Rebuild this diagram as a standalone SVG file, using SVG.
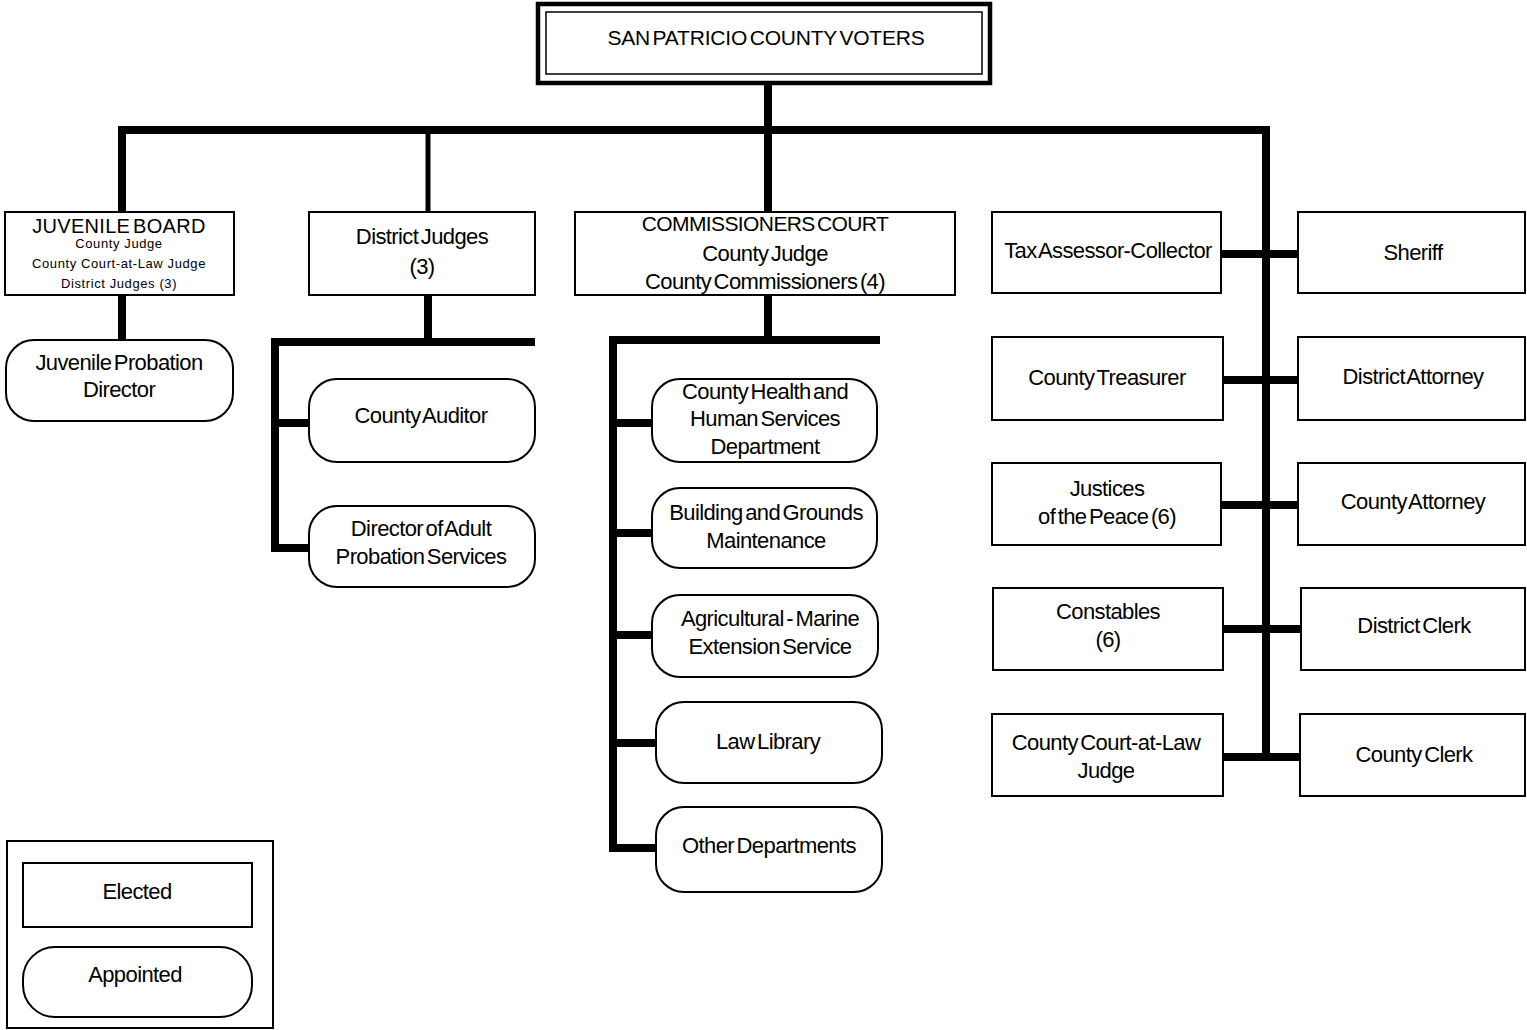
<svg xmlns="http://www.w3.org/2000/svg" width="1527" height="1030" viewBox="0 0 1527 1030">
<style>
  .box { fill: #fff; stroke: #000; stroke-width: 2; }
  .rbox { fill: #fff; stroke: #000; stroke-width: 2; }
  .t { font-family: "Liberation Sans", Arial, sans-serif; font-size: 22px; letter-spacing: -0.6px; word-spacing: -3px; text-anchor: middle; fill: #000; }
  .s { font-family: "Liberation Sans", Arial, sans-serif; font-size: 13px; letter-spacing: 0.6px; text-anchor: middle; fill: #000; }
  .c { fill: none; stroke: #000; stroke-width: 8; stroke-linejoin: miter; stroke-linecap: butt; }
  .cm { fill: none; stroke: #000; stroke-width: 5; }
</style>
<rect width="1527" height="1030" fill="#fff"/>

<g id="connectors">
  <path class="c" d="M768 84 V130"/>
  <path class="c" d="M122 212 V130 H1266 V757"/>
  <path class="cm" d="M428 130 V212"/>
  <path class="c" d="M768 130 V212"/>
  <path class="c" d="M122 295 V340"/>
  <path class="c" d="M428 295 V342"/>
  <path class="c" d="M535 342 H275 V548 H309"/>
  <path class="c" d="M275 423 H309"/>
  <path class="c" d="M768 295 V340"/>
  <path class="c" d="M880 340 H613 V848 H656"/>
  <path class="c" d="M613 423 H652"/>
  <path class="c" d="M613 533 H652"/>
  <path class="c" d="M613 635 H652"/>
  <path class="c" d="M613 743 H656"/>
  <path class="c" d="M1221 254 H1298"/>
  <path class="c" d="M1223 380 H1298"/>
  <path class="c" d="M1221 505 H1298"/>
  <path class="c" d="M1223 629 H1301"/>
  <path class="c" d="M1223 757 H1300"/>
</g>

<g id="voters">
  <rect x="538" y="4" width="452" height="79" fill="#fff" stroke="#000" stroke-width="4.5"/>
  <rect x="546" y="12" width="436" height="62" fill="none" stroke="#000" stroke-width="1.5"/>
  <text class="t" x="766" y="45" style="font-size:21px;letter-spacing:-0.2px">SAN PATRICIO COUNTY VOTERS</text>
</g>

<g id="juvenile-board">
  <rect class="box" x="5" y="212" width="229" height="83"/>
  <text class="t" x="119" y="233" style="font-size:20px;letter-spacing:0.3px">JUVENILE BOARD</text>
  <text class="s" x="119" y="248">County Judge</text>
  <text class="s" x="119" y="268">County Court-at-Law Judge</text>
  <text class="s" x="119" y="288">District Judges (3)</text>
</g>

<g id="district-judges">
  <rect class="box" x="309" y="212" width="226" height="83"/>
  <text class="t" x="422" y="244">District Judges</text>
  <text class="t" x="422" y="274">(3)</text>
</g>

<g id="commissioners-court">
  <rect class="box" x="575" y="212" width="380" height="83"/>
  <text class="t" x="765" y="231" style="font-size:21px">COMMISSIONERS COURT</text>
  <text class="t" x="765" y="261">County Judge</text>
  <text class="t" x="765" y="289">County Commissioners (4)</text>
</g>

<g id="juvenile-probation">
  <rect class="rbox" x="6" y="340" width="227" height="81" rx="28" ry="28"/>
  <text class="t" x="119" y="370">Juvenile Probation</text>
  <text class="t" x="119" y="397">Director</text>
</g>

<g id="county-auditor">
  <rect class="rbox" x="309" y="379" width="226" height="83" rx="28" ry="28"/>
  <text class="t" x="421" y="423">County Auditor</text>
</g>

<g id="adult-probation">
  <rect class="rbox" x="309" y="506" width="226" height="81" rx="28" ry="28"/>
  <text class="t" x="421" y="536">Director of Adult</text>
  <text class="t" x="421" y="564">Probation Services</text>
</g>

<g id="health">
  <rect class="rbox" x="652" y="379" width="225" height="83" rx="28" ry="28"/>
  <text class="t" x="765" y="399">County Health and</text>
  <text class="t" x="765" y="426">Human Services</text>
  <text class="t" x="765" y="454">Department</text>
</g>

<g id="building">
  <rect class="rbox" x="652" y="488" width="225" height="80" rx="28" ry="28"/>
  <text class="t" x="766" y="520">Building and Grounds</text>
  <text class="t" x="766" y="548">Maintenance</text>
</g>

<g id="agricultural">
  <rect class="rbox" x="652" y="595" width="226" height="82" rx="28" ry="28"/>
  <text class="t" x="770" y="626">Agricultural - Marine</text>
  <text class="t" x="770" y="654">Extension Service</text>
</g>

<g id="law-library">
  <rect class="rbox" x="656" y="702" width="226" height="81" rx="28" ry="28"/>
  <text class="t" x="768" y="749">Law Library</text>
</g>

<g id="other-departments">
  <rect class="rbox" x="656" y="807" width="226" height="85" rx="28" ry="28"/>
  <text class="t" x="769" y="853">Other Departments</text>
</g>

<g id="tax-assessor">
  <rect class="box" x="992" y="212" width="229" height="81"/>
  <text class="t" x="1108" y="258">Tax Assessor-Collector</text>
</g>

<g id="sheriff">
  <rect class="box" x="1298" y="212" width="227" height="81"/>
  <text class="t" x="1413" y="260">Sheriff</text>
</g>

<g id="county-treasurer">
  <rect class="box" x="992" y="337" width="231" height="83"/>
  <text class="t" x="1107" y="385">County Treasurer</text>
</g>

<g id="district-attorney">
  <rect class="box" x="1298" y="337" width="227" height="83"/>
  <text class="t" x="1413" y="384">District Attorney</text>
</g>

<g id="justices">
  <rect class="box" x="992" y="463" width="229" height="82"/>
  <text class="t" x="1107" y="496">Justices</text>
  <text class="t" x="1107" y="524">of the Peace (6)</text>
</g>

<g id="county-attorney">
  <rect class="box" x="1298" y="463" width="227" height="82"/>
  <text class="t" x="1413" y="509">County Attorney</text>
</g>

<g id="constables">
  <rect class="box" x="993" y="588" width="230" height="82"/>
  <text class="t" x="1108" y="619">Constables</text>
  <text class="t" x="1108" y="647">(6)</text>
</g>

<g id="district-clerk">
  <rect class="box" x="1301" y="588" width="224" height="82"/>
  <text class="t" x="1414" y="633">District Clerk</text>
</g>

<g id="county-court-at-law">
  <rect class="box" x="992" y="714" width="231" height="82"/>
  <text class="t" x="1106" y="750">County Court-at-Law</text>
  <text class="t" x="1106" y="778">Judge</text>
</g>

<g id="county-clerk">
  <rect class="box" x="1300" y="714" width="225" height="82"/>
  <text class="t" x="1414" y="762">County Clerk</text>
</g>

<g id="legend">
  <rect class="box" x="7" y="841" width="266" height="187"/>
  <rect class="box" x="23" y="863" width="229" height="64"/>
  <text class="t" x="137" y="899">Elected</text>
  <rect class="rbox" x="23" y="947" width="229" height="70" rx="32" ry="32"/>
  <text class="t" x="135" y="982">Appointed</text>
</g>
</svg>
